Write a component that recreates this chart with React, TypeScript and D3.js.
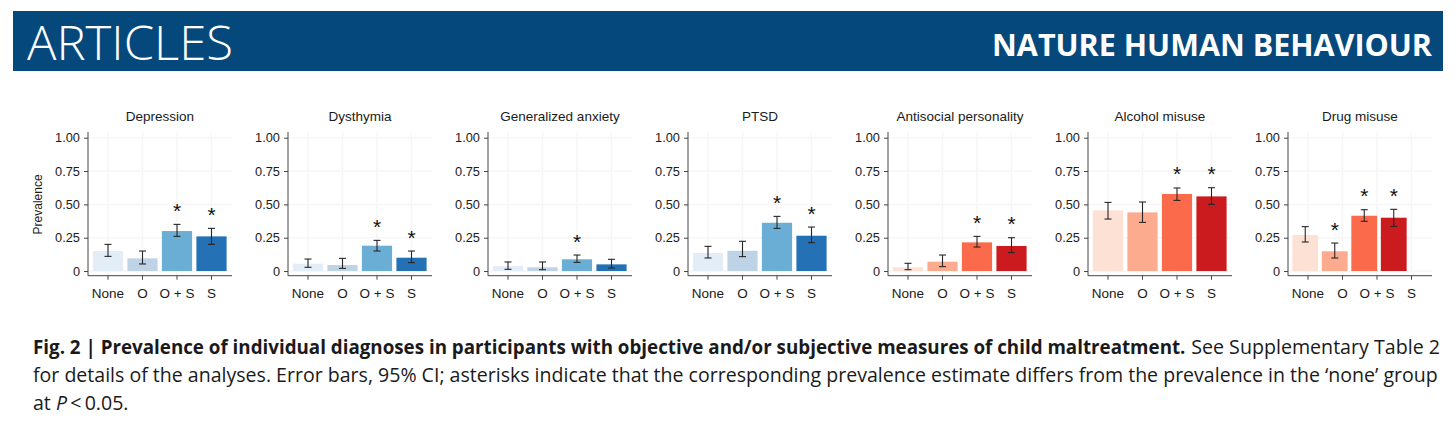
import { useEffect, useRef } from "react";
import * as d3 from "d3";

const diagnoses = [
  "Depression",
  "Dysthymia",
  "Generalized anxiety",
  "PTSD",
  "Antisocial personality",
  "Alcohol misuse",
  "Drug misuse",
];
const groups = ["None", "O", "O + S", "S"];

// prevalence estimates per diagnosis, in group order
const prevalence = [
  [0.15, 0.095, 0.3, 0.26],
  [0.055, 0.045, 0.19, 0.1],
  [0.038, 0.028, 0.088, 0.05],
  [0.135, 0.152, 0.362, 0.265],
  [0.028, 0.07, 0.215, 0.188],
  [0.455, 0.44, 0.578, 0.56],
  [0.27, 0.148, 0.415, 0.4],
];
// 95% CI
const ciLow = [
  [0.11, 0.053, 0.26, 0.2],
  [0.028, 0.02, 0.15, 0.063],
  [0.013, 0.01, 0.065, 0.023],
  [0.098, 0.108, 0.32, 0.213],
  [0.01, 0.033, 0.18, 0.138],
  [0.39, 0.365, 0.53, 0.5],
  [0.218, 0.098, 0.373, 0.335],
];
const ciHigh = [
  [0.2, 0.15, 0.35, 0.32],
  [0.09, 0.095, 0.23, 0.15],
  [0.068, 0.068, 0.12, 0.088],
  [0.185, 0.223, 0.41, 0.33],
  [0.058, 0.12, 0.26, 0.25],
  [0.515, 0.518, 0.623, 0.625],
  [0.333, 0.21, 0.46, 0.463],
];
// asterisk = differs from 'none' at P < 0.05
const significant = [
  [0, 0, 1, 1],
  [0, 0, 1, 1],
  [0, 0, 1, 0],
  [0, 0, 1, 1],
  [0, 0, 1, 1],
  [0, 0, 1, 1],
  [0, 1, 1, 1],
];
const yTicks = [0, 0.25, 0.5, 0.75, 1];
const yTickLabels = ["0", "0.25", "0.50", "0.75", "1.00"];

const BLUES = ["#e3edf7", "#bed3e6", "#6aaed6", "#2471b6"];
const REDS = ["#fde1d4", "#fcab8f", "#fb6a4a", "#cc1b1f"];

const FONT = "'Liberation Sans', Arial, Helvetica, sans-serif";
const CAPTION_FONT = "'Open Sans', sans-serif";

// shrink a text's font size so its natural width matches the target
function fitWidth(
  sel: d3.Selection<SVGTextElement, unknown, null, undefined>,
  size: number,
  target: number
) {
  sel.attr("font-size", size);
  const w = (sel.node() as SVGTextElement).getComputedTextLength();
  if (w > 0) sel.attr("font-size", (size * target) / w);
}

export default function App() {
  const ref = useRef<SVGSVGElement>(null);

  useEffect(() => {
    if (!ref.current) return;
    const svg = d3.select(ref.current);
    svg.selectAll("*").remove();

    const W = 1456;
    const H = 447;
    svg.attr("width", W).attr("height", H);
    svg.append("rect").attr("width", W).attr("height", H).attr("fill", "#fff");

    // Header band
    svg
      .append("rect")
      .attr("x", 13)
      .attr("y", 11)
      .attr("width", 1430)
      .attr("height", 60)
      .attr("fill", "#05487c");
    svg
      .append("text")
      .attr("x", 27)
      .attr("y", 60)
      .attr("fill", "#fff")
      .attr("font-family", "'Open Sans', sans-serif")
      .attr("font-weight", 300)
      .attr("font-size", 47)
      .attr("textLength", 206)
      .attr("lengthAdjust", "spacingAndGlyphs")
      .text("ARTICLES");
    const brand = svg
      .append("text")
      .attr("x", 1432)
      .attr("y", 56)
      .attr("text-anchor", "end")
      .attr("fill", "#fff")
      .attr("font-family", "'Open Sans', sans-serif")
      .attr("font-weight", 700)
      .text("NATURE HUMAN BEHAVIOUR");
    fitWidth(brand, 32, 440);

    // Shared y scale (ggplot-style expansion below 0 and above 1)
    const y = d3.scaleLinear().domain([-0.035, 1.043]).range([275.7, 132]);

    diagnoses.forEach((name, i) => {
      const ax = 88 + i * 200;
      const palette = i < 4 ? BLUES : REDS;
      const g = svg.append("g").attr("font-family", FONT);

      const x = d3
        .scaleBand<string>()
        .domain(groups)
        .range([ax + 2.75, ax + 140.75]);
      // the drug misuse panel has its bars squeezed off the tick positions
      const xBar =
        i === 6
          ? d3.scaleBand<string>().domain(groups).range([ax + 2.5, ax + 120.5])
          : x;
      const bw = xBar.bandwidth() * 0.875;
      const cx = (k: string) => (xBar(k) as number) + xBar.bandwidth() / 2;

      // faint grid
      g.selectAll("line.vg")
        .data(groups)
        .join("line")
        .attr("x1", (d) => (x(d) as number) + x.bandwidth() / 2)
        .attr("x2", (d) => (x(d) as number) + x.bandwidth() / 2)
        .attr("y1", y(1.04))
        .attr("y2", y(-0.03))
        .attr("stroke", "#f6f6f6")
        .attr("stroke-width", 1.5);
      g.selectAll("line.hg")
        .data(yTicks)
        .join("line")
        .attr("x1", ax)
        .attr("x2", ax + 144)
        .attr("y1", (d) => y(d))
        .attr("y2", (d) => y(d))
        .attr("stroke", "#f6f6f6")
        .attr("stroke-width", 1.5);

      // bars
      g.selectAll("rect.bar")
        .data(groups)
        .join("rect")
        .attr("x", (d) => cx(d) - bw / 2)
        .attr("y", (_, k) => y(prevalence[i][k]))
        .attr("width", bw)
        .attr("height", (_, k) => y(0) - y(prevalence[i][k]))
        .attr("fill", (_, k) => palette[k]);

      // error bars
      groups.forEach((grp, k) => {
        const c = cx(grp);
        const lo = y(ciLow[i][k]);
        const hi = y(ciHigh[i][k]);
        const eb = g.append("g").attr("stroke", "#262626").attr("stroke-width", 1.1);
        eb.append("line").attr("x1", c).attr("x2", c).attr("y1", lo).attr("y2", hi);
        eb.append("line").attr("x1", c - 3.5).attr("x2", c + 3.5).attr("y1", lo).attr("y2", lo);
        eb.append("line").attr("x1", c - 3.5).attr("x2", c + 3.5).attr("y1", hi).attr("y2", hi);
        if (significant[i][k]) {
          g.append("text")
            .attr("x", c)
            .attr("y", y(ciHigh[i][k] + 0.135) + 11.5)
            .attr("text-anchor", "middle")
            .attr("font-size", 21)
            .attr("fill", "#111")
            .text("*");
        }
      });

      // axes
      const yAxis = g
        .append("g")
        .attr("transform", `translate(${ax},0)`)
        .call(
          d3
            .axisLeft(y)
            .tickValues(yTicks)
            .tickFormat((_, idx) => yTickLabels[idx])
            .tickSize(4)
            .tickPadding(4)
        );
      yAxis.select(".domain").remove();
      yAxis.selectAll("line").attr("stroke", "#444");
      yAxis
        .selectAll("text")
        .attr("font-size", 12.8)
        .attr("font-family", FONT)
        .attr("fill", "#1a1a1a");

      const xAxis = g
        .append("g")
        .attr("transform", `translate(0,${y(-0.035)})`)
        .call(d3.axisBottom(x).tickSize(4).tickPadding(8.5));
      xAxis.select(".domain").remove();
      xAxis.selectAll("line").attr("stroke", "#444");
      xAxis
        .selectAll("text")
        .attr("font-size", 13.5)
        .attr("font-family", FONT)
        .attr("fill", "#1a1a1a");

      // axis lines (L shape)
      g.append("path")
        .attr("d", `M${ax},${y(1.043)}V${y(-0.035)}H${ax + 144}`)
        .attr("fill", "none")
        .attr("stroke", "#444")
        .attr("stroke-width", 1);

      g.append("text")
        .attr("x", ax + 72)
        .attr("y", 120.5)
        .attr("text-anchor", "middle")
        .attr("font-size", 13.5)
        .attr("fill", "#1a1a1a")
        .text(name);

      if (i === 0) {
        g.append("text")
          .attr("transform", `translate(42,${y(0.5)}) rotate(-90)`)
          .attr("text-anchor", "middle")
          .attr("font-size", 12)
          .attr("fill", "#1a1a1a")
          .text("Prevalence");
      }
    });

    // Caption
    const cap = svg
      .append("g")
      .attr("font-family", CAPTION_FONT)
      .attr("fill", "#1a1a1a");
    const bold = cap
      .append("text")
      .attr("x", 33)
      .attr("y", 354)
      .attr("font-weight", 700)
      .text(
        "Fig. 2 | Prevalence of individual diagnoses in participants with objective and/or subjective measures of child maltreatment."
      );
    fitWidth(bold, 19, 1153);
    const see = cap
      .append("text")
      .attr("x", 1440)
      .attr("y", 354)
      .attr("text-anchor", "end")
      .text("See Supplementary Table 2");
    fitWidth(see, 19, 249);
    const l2 = cap
      .append("text")
      .attr("x", 33)
      .attr("y", 382)
      .text(
        "for details of the analyses. Error bars, 95% CI; asterisks indicate that the corresponding prevalence estimate differs from the prevalence in the \u2018none\u2019 group"
      );
    fitWidth(l2, 19, 1406);
    const l3 = cap
      .append("text")
      .attr("x", 33)
      .attr("y", 410)
      .attr("font-size", l2.attr("font-size"));
    l3.append("tspan").text("at ");
    l3.append("tspan").attr("font-style", "italic").text("P");
    l3.append("tspan").text("\u2009<\u20090.05.");

    return () => {
      svg.selectAll("*").remove();
    };
  }, []);

  return (
    <svg
      ref={ref}
      style={{ position: "absolute", left: 0, top: 0, display: "block" }}
    />
  );
}
